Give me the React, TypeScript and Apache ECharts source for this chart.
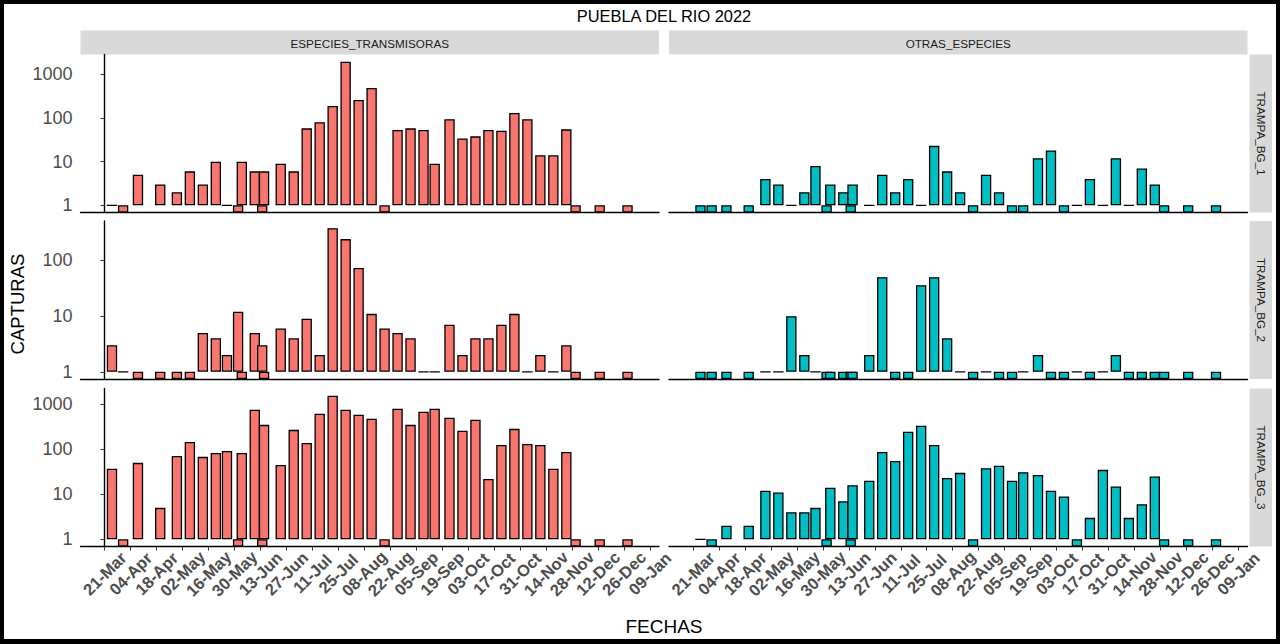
import React, { useEffect, useRef } from 'react';
import * as echarts from 'echarts';

// fechas de muestreo (compartidas por las tres trampas)
const sampleDates = [
  '2022-03-25', '2022-03-31', '2022-04-08', '2022-04-20', '2022-04-29', '2022-05-06', '2022-05-13', '2022-05-20',
  '2022-05-26', '2022-06-01', '2022-06-03', '2022-06-10', '2022-06-14', '2022-06-15', '2022-06-24', '2022-07-01',
  '2022-07-08', '2022-07-15', '2022-07-22', '2022-07-29', '2022-08-05', '2022-08-12', '2022-08-19', '2022-08-26',
  '2022-09-02', '2022-09-09', '2022-09-15', '2022-09-23', '2022-09-30', '2022-10-07', '2022-10-14', '2022-10-21',
  '2022-10-28', '2022-11-04', '2022-11-11', '2022-11-18', '2022-11-25', '2022-11-30', '2022-12-13', '2022-12-28',
];

const tickDates = [
  '2022-03-21', '2022-04-04', '2022-04-18', '2022-05-02', '2022-05-16', '2022-05-30', '2022-06-13', '2022-06-27',
  '2022-07-11', '2022-07-25', '2022-08-08', '2022-08-22', '2022-09-05', '2022-09-19', '2022-10-03', '2022-10-17',
  '2022-10-31', '2022-11-14', '2022-11-28', '2022-12-12', '2022-12-26', '2023-01-09',
];
const tickLabels = [
  '21-Mar', '04-Apr', '18-Apr', '02-May', '16-May', '30-May', '13-Jun', '27-Jun', '11-Jul', '25-Jul', '08-Aug',
  '22-Aug', '05-Sep', '19-Sep', '03-Oct', '17-Oct', '31-Oct', '14-Nov', '28-Nov', '12-Dec', '26-Dec', '09-Jan',
];

const grupos = ['ESPECIES_TRANSMISORAS', 'OTRAS_ESPECIES'];
const trampas = ['TRAMPA_BG_1', 'TRAMPA_BG_2', 'TRAMPA_BG_3'];

// capturas (0 = sin capturas)
const bg1Transmisoras = [1, 0, 5, 3, 2, 6, 3, 10, 1, 0, 10, 6, 0, 6, 9, 6, 58, 80, 188, 1950, 258, 489, 0, 53, 58, 53, 9, 94, 34, 38, 53, 51, 130, 94, 14, 14, 55, 0, 0, 0];
const bg1Otras = [0, 0, 0, 0, 4, 3, 1, 2, 8, 0, 3, 2, 0, 3, 1, 5, 2, 4, 1, 23, 6, 2, 0, 5, 2, 0, 0, 12, 18, 0, 1, 4, 1, 12, 1, 7, 3, 0, 0, 0];
const bg2Transmisoras = [3, 1, 0, 0, 0, 0, 5, 4, 2, 12, 0, 5, 3, 0, 6, 4, 9, 2, 380, 242, 73, 11, 6, 5, 4, 1, 1, 7, 2, 4, 4, 7, 11, 1, 2, 1, 3, 0, 0, 0];
const bg2Otras = [0, 0, 0, 0, 1, 1, 10, 2, 1, 0, 0, 0, 0, 0, 2, 50, 0, 0, 36, 50, 4, 1, 0, 1, 0, 0, 1, 2, 0, 0, 1, 0, 1, 2, 0, 0, 0, 0, 0, 0];
const bg3Transmisoras = [37, 0, 50, 5, 71, 146, 68, 83, 92, 0, 83, 757, 0, 350, 45, 271, 139, 617, 1556, 757, 586, 477, 0, 798, 350, 684, 798, 502, 258, 453, 22, 125, 285, 132, 125, 37, 87, 0, 0, 0];
const bg3Otras = [1, 0, 2, 2, 12, 11, 4, 4, 5, 0, 14, 7, 0, 16, 20, 87, 55, 245, 333, 125, 23, 30, 0, 38, 43, 20, 31, 27, 12, 9, 0, 3, 35, 15, 3, 6, 25, 0, 0, 0];

const rows = [
  [bg1Transmisoras, bg1Otras],
  [bg2Transmisoras, bg2Otras],
  [bg3Transmisoras, bg3Otras],
];

const colors = ['#F8766D', '#00BFC4'];
const FONT = "'Liberation Sans', Arial, sans-serif";

const toDay = (s: string) => {
  const [y, m, d] = s.split('-').map(Number);
  const [y0, m0, d0] = tickDates[0].split('-').map(Number);
  return Math.round((Date.UTC(y, m - 1, d) - Date.UTC(y0, m0 - 1, d0)) / 86400000);
};

const App: React.FC = () => {
  const chartRef = useRef<HTMLDivElement>(null);

  useEffect(() => {
    document.body.style.margin = '0';
    const chart = echarts.init(chartRef.current, null, { renderer: 'svg' });

    const colLeft = [80.5, 669];
    const colWidth = 578.5;
    const rowTop = [54.5, 221, 388.5];
    const rowH = 158;
    const barDays = 5.6;

    const days = sampleDates.map(toDay);
    const tickDays = tickDates.map(toDay);
    const lo = days[0] - barDays / 2;
    const hi = days[days.length - 1] + barDays / 2;
    const xMin = lo - (hi - lo) * 0.05;
    const xMax = hi + (hi - lo) * 0.05;
    const barWidth = (colWidth / (xMax - xMin)) * barDays;

    const grids: any[] = [];
    const xAxes: any[] = [];
    const yAxes: any[] = [];
    const series: any[] = [];

    rows.forEach((row, r) => {
      const maxLog = Math.max(...row.flat().filter((v) => v > 0).map((v) => Math.log10(v)));
      const yMin = -0.05 * maxLog;
      const yMax = maxLog * 1.05;
      const decades = [0, 1, 2, 3].filter((d) => d <= yMax);
      row.forEach((vals, c) => {
        const i = r * 2 + c;
        const bottom = r === 2;
        grids.push({ left: colLeft[c], top: rowTop[r], width: colWidth, height: rowH, containLabel: false });
        xAxes.push({
          type: 'value',
          gridIndex: i,
          min: xMin,
          max: xMax,
          splitLine: { show: false },
          axisLine: { show: true, onZero: false, lineStyle: { color: '#000', width: 1.4 } },
          axisTick: { show: bottom, customValues: tickDays, length: 4, lineStyle: { color: '#333' } },
          axisLabel: {
            show: bottom,
            customValues: tickDays,
            formatter: (v: number) => tickLabels[tickDays.indexOf(Math.round(v))] ?? '',
            rotate: 45,
            align: 'center',
            verticalAlign: 'middle',
            margin: 27,
            fontSize: 16.5,
            fontWeight: 'bold',
            fontFamily: FONT,
            color: '#4D4D4D',
          },
        });
        yAxes.push({
          type: 'value',
          gridIndex: i,
          min: yMin,
          max: yMax,
          splitLine: { show: false },
          axisLine: { show: c === 0, lineStyle: { color: '#000', width: 1.4 } },
          axisTick: { show: c === 0, customValues: decades, length: 4, lineStyle: { color: '#333' } },
          axisLabel: {
            show: c === 0,
            customValues: decades,
            formatter: (v: number) => String(Math.round(Math.pow(10, v))),
            margin: 8,
            fontSize: 18,
            fontFamily: FONT,
            color: '#4D4D4D',
          },
        });
        series.push({
          type: 'bar',
          xAxisIndex: i,
          yAxisIndex: i,
          barWidth,
          data: vals.map((v, k) => [days[k], v > 0 ? Math.log10(v) : yMin]),
          itemStyle: { color: colors[c], borderColor: '#000', borderWidth: 1.3 },
        });
      });
    });

    const graphic: any[] = [
      {
        type: 'text', x: 664, y: 16,
        style: { text: 'PUEBLA DEL RIO 2022', fontSize: 16.4, fontFamily: FONT, fill: '#000', align: 'center', verticalAlign: 'middle', textAlign: 'center', textVerticalAlign: 'middle' },
      },
      {
        type: 'text', x: 17, y: 304, rotation: Math.PI / 2,
        style: { text: 'CAPTURAS', fontSize: 18.5, fontFamily: FONT, fill: '#000', align: 'center', verticalAlign: 'middle', textAlign: 'center', textVerticalAlign: 'middle' },
      },
      {
        type: 'text', x: 664, y: 626,
        style: { text: 'FECHAS', fontSize: 19, fontFamily: FONT, fill: '#000', align: 'center', verticalAlign: 'middle', textAlign: 'center', textVerticalAlign: 'middle' },
      },
    ];
    grupos.forEach((g, c) => {
      graphic.push({ type: 'rect', shape: { x: colLeft[c], y: 30.5, width: colWidth, height: 24 }, style: { fill: '#D9D9D9' } });
      graphic.push({
        type: 'text', x: colLeft[c] + colWidth / 2, y: 43,
        style: { text: g, fontSize: 11.7, fontFamily: FONT, fill: '#1A1A1A', align: 'center', verticalAlign: 'middle', textAlign: 'center', textVerticalAlign: 'middle' },
      });
    });
    trampas.forEach((t, r) => {
      graphic.push({ type: 'rect', shape: { x: 1249.5, y: rowTop[r], width: 22.5, height: rowH }, style: { fill: '#D9D9D9' } });
      graphic.push({
        type: 'text', x: 1261, y: rowTop[r] + rowH / 2, rotation: -Math.PI / 2,
        style: { text: t, fontSize: 11.7, fontFamily: FONT, fill: '#1A1A1A', align: 'center', verticalAlign: 'middle', textAlign: 'center', textVerticalAlign: 'middle' },
      });
    });

    chart.setOption({
      animation: false,
      backgroundColor: '#fff',
      textStyle: { fontFamily: FONT },
      grid: grids,
      xAxis: xAxes,
      yAxis: yAxes,
      series,
      graphic,
    });

    return () => {
      chart.dispose();
    };
  }, []);

  return (
    <div style={{ position: 'relative', width: '1280px', height: '644px' }}>
      <div ref={chartRef} style={{ position: 'absolute', left: 0, top: 0, width: '1280px', height: '644px' }} />
      <div
        style={{
          position: 'absolute', left: 0, top: 0, width: '1280px', height: '644px', boxSizing: 'border-box',
          borderStyle: 'solid', borderColor: '#000', borderWidth: '4px 4px 5px 4px', pointerEvents: 'none',
        }}
      />
    </div>
  );
};

export default App;
